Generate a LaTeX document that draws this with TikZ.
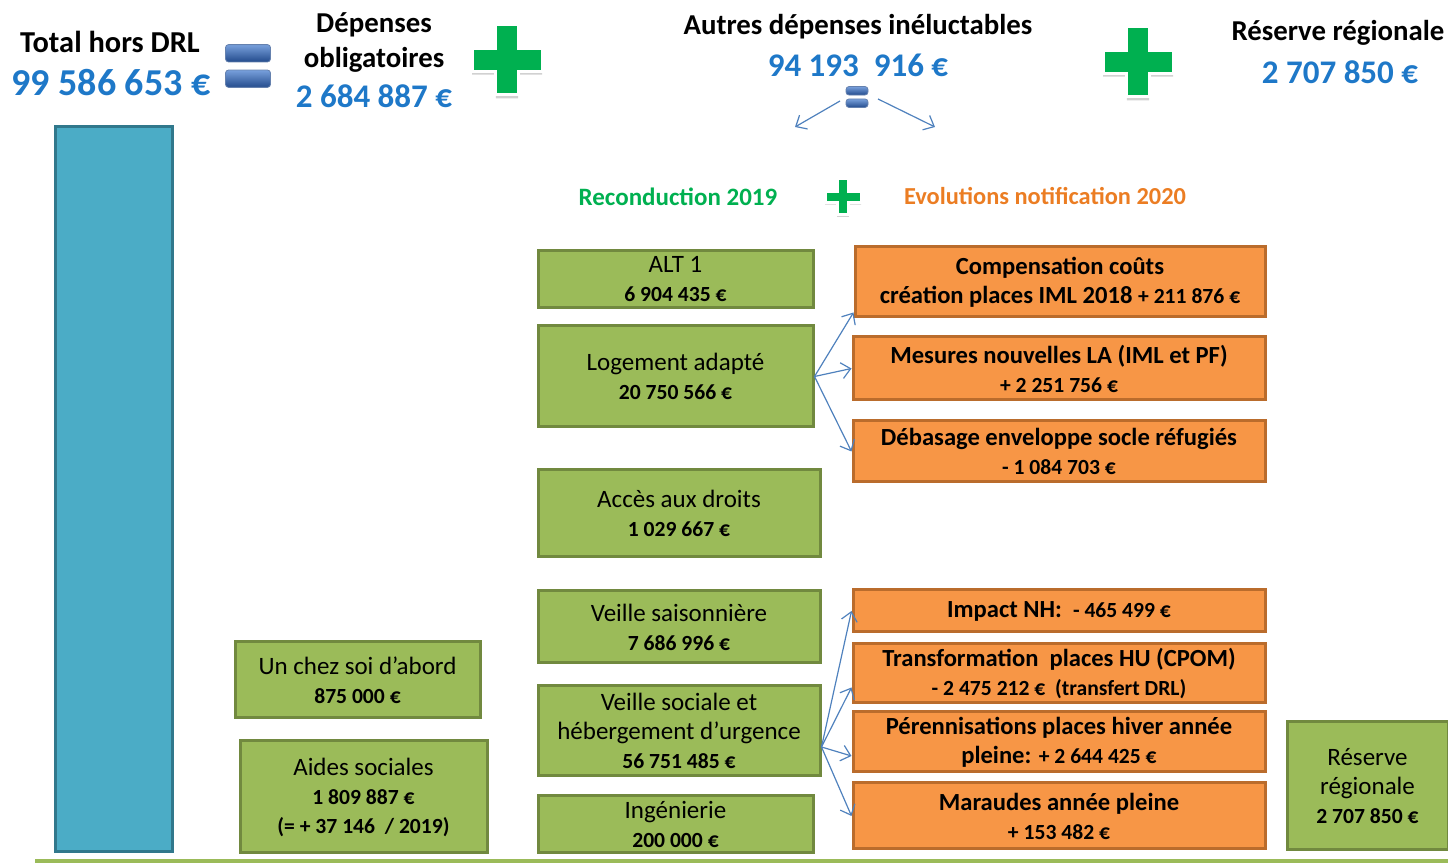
\documentclass[tikz,border=0pt]{standalone}
\usepackage{fontspec}
\setmainfont{Carlito}
\definecolor{boxgreen}{RGB}{155,187,89}
\definecolor{boxgreenline}{RGB}{113,137,63}
\definecolor{boxorange}{RGB}{247,150,70}
\definecolor{boxorangeline}{RGB}{186,108,44}
\definecolor{barblue}{RGB}{75,172,198}
\definecolor{barblueline}{RGB}{49,120,140}
\definecolor{numblue}{RGB}{30,120,200}
\definecolor{plusgreen}{RGB}{0,176,80}
\definecolor{evolorange}{RGB}{235,125,35}
\definecolor{arrowblue}{RGB}{79,129,189}
\definecolor{eqtop}{RGB}{120,160,220}
\definecolor{eqbottom}{RGB}{35,75,140}
\usetikzlibrary{arrows.meta, positioning}
\newcommand\amount[1]{{\bfseries\fontsize{10.8}{14.5}\selectfont #1}}

\begin{document}
\begin{tikzpicture}[
  x=0.5pt, y=-0.5pt,
  gbox/.style={
    draw=boxgreenline, line width=1.5pt, fill=boxgreen,
    align=center, inner sep=0pt,
    font=\fontsize{12.5}{14.5}\selectfont
  },
  obox/.style={
    draw=boxorangeline, line width=1.5pt, fill=boxorange,
    align=center, inner sep=0pt,
    font=\bfseries\fontsize{12.3}{14.5}\selectfont
  },
  boxsize/.style 2 args={minimum width=#1*0.5pt, minimum height=#2*0.5pt},
  head/.style={font=\bfseries\fontsize{14.4}{17.5}\selectfont, align=center},
  headval/.style={font=\bfseries\fontsize{16.5}{18}\selectfont, text=numblue},
  arrow/.style={
    -{Straight Barb[length=4.5pt, width=8pt]},
    line width=0.6pt, draw=arrowblue
  },
  plussign/.pic={
    \fill[black!18] (-0.32,-0.9) -- (0.32,-0.9) -- (0.32,-0.22) -- (1,-0.22) -- (1,0.42)
      -- (0.32,0.42) -- (0.32,1.1) -- (-0.32,1.1) -- (-0.32,0.42) -- (-1,0.42)
      -- (-1,-0.22) -- (-0.32,-0.22) -- cycle;
    \draw[white, line width=1.5pt, fill=plusgreen] (-0.32,-1) -- (0.32,-1) -- (0.32,-0.32) -- (1,-0.32) -- (1,0.32)
      -- (0.32,0.32) -- (0.32,1) -- (-0.32,1) -- (-0.32,0.32) -- (-1,0.32)
      -- (-1,-0.32) -- (-0.32,-0.32) -- cycle;
  },
  equalsign/.pic={
    \draw[eqbottom!70, top color=eqtop, bottom color=eqbottom, rounded corners=1.5pt]
      (-1,-0.95) rectangle (1,-0.18);
    \draw[eqbottom!70, top color=eqtop, bottom color=eqbottom, rounded corners=1.5pt]
      (-1,0.18) rectangle (1,0.95);
  }
]
\useasboundingbox (0,0) rectangle (1448,865);

% header line
\node[draw=barblueline, fill=barblue, line width=1.5pt, boxsize={117}{725}] (bar) at (113.5,489.5) {};
\node[font=\bfseries\fontsize{15.2}{17}\selectfont] (totallabel) at (110,42) {Total hors DRL};
\node[font=\bfseries\fontsize{19}{20}\selectfont, text=numblue] (totalval) at (111,83) {99 586 653 €};
\pic[scale=22.5] at (248,66) {equalsign};
\node[head] (oblig) at (374,43) {Dépenses\\obligatoires};
\node[headval] (obligval) at (374,96) {2 684 887 €};
\pic[scale=35] at (507,60) {plussign};
\node[head] (autres) at (858,27) {Autres dépenses inéluctables};
\node[headval] (autresval) at (858,65) {94 193~~916 €};
\pic[scale=11] at (857,97) {equalsign};
\pic[scale=35] at (1138,62) {plussign};
\node[head] (reservelabel) at (1338,33) {Réserve régionale};
\node[headval] (reserveval) at (1340,72) {2 707 850 €};

% split
\coordinate (splitl) at (840,101);
\coordinate (splitlend) at (795,127);
\coordinate (splitr) at (878,99);
\coordinate (splitrend) at (935,127);
\draw[arrow] (splitl) -- (splitlend);
\draw[arrow] (splitr) -- (splitrend);

\node[font=\bfseries\fontsize{12.5}{14}\selectfont, text=plusgreen] (reconduction) at (678,197) {Reconduction 2019};
\pic[scale=18] at (843,197) {plussign};
\node[font=\bfseries\fontsize{12.2}{14}\selectfont, text=evolorange] (evolutions) at (1045,196) {Evolutions notification 2020};

% reconduction 2019
\node[gbox, boxsize={275}{57}] (alt) at (675.5,279.5) {ALT 1\\\amount{6 904 435 €}};
\node[gbox, boxsize={275}{101}] (loga) at (675.5,376.5) {Logement adapté\\\amount{20 750 566 €}};
\node[gbox, boxsize={282}{87}] (acces) at (679,513.5) {Accès aux droits\\\amount{1 029 667 €}};
\node[gbox, boxsize={282}{72}] (veillesais) at (679,627) {Veille saisonnière\\\amount{7 686 996 €}};
\node[gbox, boxsize={282}{90}] (veillesoc) at (679,731) {Veille sociale et\\hébergement d’urgence\\\amount{56 751 485 €}};
\node[gbox, boxsize={275}{57}] (inge) at (675.5,824.5) {Ingénierie\\\amount{200 000 €}};
\node[gbox, boxsize={245}{76}] (chezsoi) at (357.5,680) {Un chez soi d’abord\\\amount{875 000 €}};
\node[gbox, boxsize={247}{112}] (aides) at (363.5,797) {Aides sociales\\\amount{1 809 887 €}\\\amount{(= + 37 146~ / 2019)}};
\node[gbox, boxsize={161}{128}] (reserve) at (1367.5,786) {Réserve\\régionale\\\amount{2 707 850 €}};

% evolutions 2020
\node[obox, boxsize={410}{70}] (comp) at (1060,282) {Compensation coûts\\création places IML 2018 \amount{+ 211 876 €}};
\node[obox, boxsize={412}{63}] (mesures) at (1059,368.5) {Mesures nouvelles LA (IML et PF)\\\amount{+ 2 251 756 €}};
\node[obox, boxsize={412}{61}] (debas) at (1059,451.5) {Débasage enveloppe socle réfugiés\\\amount{- 1 084 703 €}};
\node[obox, boxsize={412}{42}] (impact) at (1059,611) {Impact NH:~ \amount{- 465 499 €}};
\node[obox, boxsize={412}{59}] (transfo) at (1059,673.5) {Transformation~ places HU (CPOM)\\\amount{- 2 475 212 €~ (transfert DRL)}};
\node[obox, boxsize={412}{60}] (perenn) at (1059,742) {Pérennisations places hiver année\\pleine: \amount{+ 2 644 425 €}};
\node[obox, boxsize={412}{66}] (maraudes) at (1059,816) {Maraudes année pleine\\\amount{+ 153 482 €}};

\draw[arrow] (loga.east) -- ([yshift=3pt]comp.south west);
\draw[arrow] (loga.east) -- (mesures.west);
\draw[arrow] (loga.east) -- (debas.west);
\draw[arrow] ([yshift=-8pt]veillesoc.east) -- (impact.west);
\draw[arrow] ([yshift=-8pt]veillesoc.east) -- ([yshift=-7pt]transfo.west);
\draw[arrow] ([yshift=-8pt]veillesoc.east) -- ([yshift=-7pt]perenn.west);
\draw[arrow] ([yshift=-8pt]veillesoc.east) -- (maraudes.west);

\draw[boxgreen, line width=2pt] (35,861) -- (1448,861);
\end{tikzpicture}
\end{document}
